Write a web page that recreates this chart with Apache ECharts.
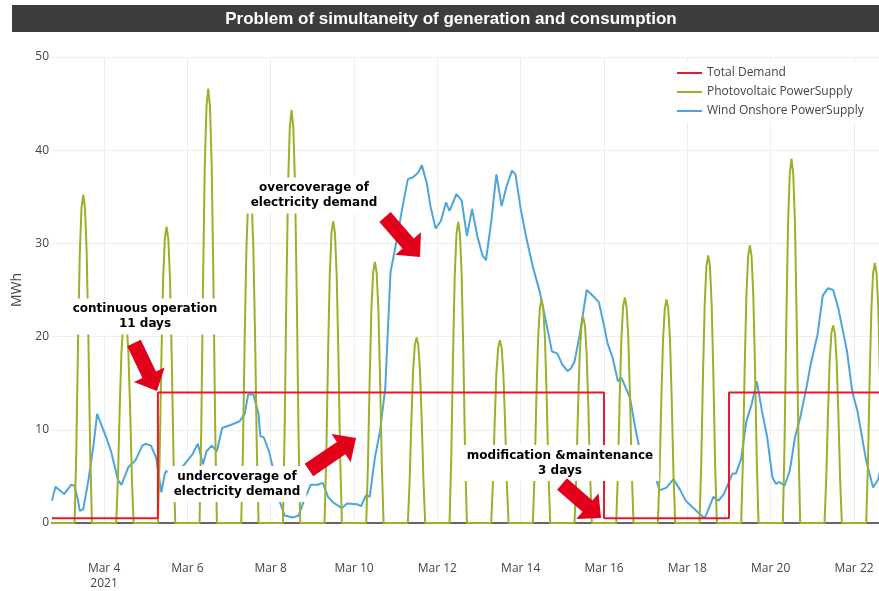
<!DOCTYPE html>
<html>
<head>
<meta charset="utf-8">
<script src="https://cdn.jsdelivr.net/npm/echarts@6/dist/echarts.min.js"></script>
<style>
  html, body { margin: 0; padding: 0; background: #fff; }
  #chart { width: 879px; height: 591px; }
</style>
</head>
<body>
<div id="chart"></div>
<script>
// x tick dates and labels
var tickDates = ['2021-03-04', '2021-03-06', '2021-03-08', '2021-03-10', '2021-03-12',
  '2021-03-14', '2021-03-16', '2021-03-18', '2021-03-20', '2021-03-22'];
var tickLabels = ['Mar 4\n2021', 'Mar 6', 'Mar 8', 'Mar 10', 'Mar 12',
  'Mar 14', 'Mar 16', 'Mar 18', 'Mar 20', 'Mar 22'];
var yTicks = [0, 10, 20, 30, 40, 50];

// total demand (step changes)
var demand = [
  ['2021-03-02 18:00', 0.5],
  ['2021-03-05 07:00', 14],
  ['2021-03-16 00:00', 0.5],
  ['2021-03-19 00:00', 14],
  ['2021-03-22 16:00', 14]
];

// photovoltaic: hourly values 07:00..17:00 for each day
var pvHours = [7, 8, 9, 10, 11, 12, 13, 14, 15, 16, 17];
var pvDays = ['2021-03-03', '2021-03-04', '2021-03-05', '2021-03-06', '2021-03-07',
  '2021-03-08', '2021-03-09', '2021-03-10', '2021-03-11', '2021-03-12',
  '2021-03-13', '2021-03-14', '2021-03-15', '2021-03-16', '2021-03-17',
  '2021-03-18', '2021-03-19', '2021-03-20', '2021-03-21', '2021-03-22'];
var pvValues = [
  [0, 7.7, 19.4, 28.9, 33.8, 35.2, 33.8, 28.9, 19.4, 7.7, 0],
  [0, 4.9, 12.3, 18.3, 21.4, 22.3, 21.4, 18.3, 12.3, 4.9, 0],
  [0, 7.0, 17.5, 26.1, 30.5, 31.8, 30.5, 26.1, 17.5, 7.0, 0],
  [0, 10.3, 25.6, 38.2, 44.7, 46.6, 44.7, 38.2, 25.6, 10.3, 0],
  [0, 7.9, 19.8, 29.5, 34.6, 36.0, 34.6, 29.5, 19.8, 7.9, 0],
  [0, 9.7, 24.4, 36.3, 42.5, 44.3, 42.5, 36.3, 24.4, 9.7, 0],
  [0, 7.1, 17.8, 26.6, 31.1, 32.4, 31.1, 26.6, 17.8, 7.1, 0],
  [0, 6.2, 15.4, 23.0, 26.9, 28.0, 26.9, 23.0, 15.4, 6.2, 0],
  [0, 4.4, 10.9, 16.3, 19.1, 19.9, 19.1, 16.3, 10.9, 4.4, 0],
  [0, 7.1, 17.8, 26.5, 31.0, 32.3, 31.0, 26.5, 17.8, 7.1, 0],
  [0, 4.3, 10.8, 16.1, 18.8, 19.6, 18.8, 16.1, 10.8, 4.3, 0],
  [0, 5.3, 13.2, 19.7, 23.0, 24.0, 23.0, 19.7, 13.2, 5.3, 0],
  [0, 4.9, 12.2, 18.1, 21.2, 22.1, 21.2, 18.1, 12.2, 4.9, 0],
  [0, 5.3, 13.3, 19.8, 23.2, 24.2, 23.2, 19.8, 13.3, 5.3, 0],
  [0, 5.3, 13.2, 19.7, 23.0, 24.0, 23.0, 19.7, 13.2, 5.3, 0],
  [0, 6.3, 15.8, 23.5, 27.6, 28.7, 27.6, 23.5, 15.8, 6.3, 0],
  [0, 6.6, 16.4, 24.4, 28.6, 29.8, 28.6, 24.4, 16.4, 6.6, 0],
  [0, 8.6, 21.5, 32.1, 37.5, 39.1, 37.5, 32.1, 21.5, 8.6, 0],
  [0, 4.7, 11.7, 17.4, 20.4, 21.2, 20.4, 17.4, 11.7, 4.7, 0],
  [0, 6.1, 15.3, 22.9, 26.8, 27.9, 26.8, 22.9, 15.3, 6.1, 0]
];

// wind onshore
var wind = [
  ['2021-03-02 18:00', 2.4], ['2021-03-02 20:00', 3.9], ['2021-03-03 01:00', 3.1],
  ['2021-03-03 05:00', 4.1], ['2021-03-03 07:00', 4.0], ['2021-03-03 09:00', 2.4],
  ['2021-03-03 10:00', 1.3], ['2021-03-03 12:00', 1.5], ['2021-03-03 15:00', 4.6],
  ['2021-03-03 18:00', 8.5], ['2021-03-03 20:00', 11.7], ['2021-03-03 21:00', 11.8],
  ['2021-03-04 01:00', 9.3], ['2021-03-04 04:00', 7.7], ['2021-03-04 08:00', 4.6],
  ['2021-03-04 10:00', 4.1], ['2021-03-04 14:00', 6.0], ['2021-03-04 18:00', 6.7],
  ['2021-03-04 22:00', 8.3], ['2021-03-05 00:00', 8.5], ['2021-03-05 03:00', 8.3],
  ['2021-03-05 06:00', 7.0], ['2021-03-05 09:00', 3.3], ['2021-03-05 11:00', 5.3],
  ['2021-03-05 12:00', 5.6], ['2021-03-05 16:00', 5.0], ['2021-03-05 21:00', 6.0],
  ['2021-03-06 03:00', 7.4], ['2021-03-06 06:00', 8.5], ['2021-03-06 09:00', 6.3],
  ['2021-03-06 11:00', 7.7], ['2021-03-06 14:00', 8.3], ['2021-03-06 17:00', 7.7],
  ['2021-03-06 20:00', 10.2], ['2021-03-07 02:00', 10.6], ['2021-03-07 06:00', 10.9],
  ['2021-03-07 09:00', 11.7], ['2021-03-07 11:00', 13.8], ['2021-03-07 14:00', 13.8],
  ['2021-03-07 17:00', 11.7], ['2021-03-07 18:00', 9.3], ['2021-03-07 20:00', 9.2],
  ['2021-03-07 23:00', 7.7], ['2021-03-08 02:00', 5.3], ['2021-03-08 05:00', 2.4],
  ['2021-03-08 08:00', 0.8], ['2021-03-08 13:00', 0.6], ['2021-03-08 16:00', 0.8],
  ['2021-03-08 20:00', 2.8], ['2021-03-08 23:00', 4.1], ['2021-03-09 03:00', 4.1],
  ['2021-03-09 06:00', 4.3], ['2021-03-09 09:00', 2.8], ['2021-03-09 12:00', 2.2],
  ['2021-03-09 17:00', 1.6], ['2021-03-09 20:00', 2.1], ['2021-03-10 02:00', 2.0],
  ['2021-03-10 04:00', 1.8], ['2021-03-10 07:00', 3.0], ['2021-03-10 09:00', 2.8],
  ['2021-03-10 12:00', 7.0], ['2021-03-10 15:00', 9.9], ['2021-03-10 18:00', 14.5],
  ['2021-03-10 21:00', 26.9], ['2021-03-11 00:00', 29.8], ['2021-03-11 04:00', 34.0],
  ['2021-03-11 07:00', 36.9], ['2021-03-11 10:00', 37.1], ['2021-03-11 13:00', 37.6],
  ['2021-03-11 15:00', 38.4], ['2021-03-11 18:00', 36.4], ['2021-03-11 20:00', 34.0],
  ['2021-03-11 23:00', 31.6], ['2021-03-12 02:00', 32.4], ['2021-03-12 05:00', 34.4],
  ['2021-03-12 07:00', 33.5], ['2021-03-12 11:00', 35.3], ['2021-03-12 14:00', 34.6],
  ['2021-03-12 17:00', 30.8], ['2021-03-12 20:00', 33.7], ['2021-03-12 23:00', 30.8],
  ['2021-03-13 02:00', 28.7], ['2021-03-13 04:00', 28.2], ['2021-03-13 07:00', 32.3],
  ['2021-03-13 10:00', 37.4], ['2021-03-13 13:00', 34.0], ['2021-03-13 16:00', 36.2],
  ['2021-03-13 19:00', 37.8], ['2021-03-13 21:00', 37.4], ['2021-03-14 00:00', 33.7],
  ['2021-03-14 03:00', 30.8], ['2021-03-14 07:00', 27.5], ['2021-03-14 11:00', 24.8],
  ['2021-03-14 15:00', 21.2], ['2021-03-14 18:00', 18.4], ['2021-03-14 21:00', 18.2],
  ['2021-03-15 00:00', 17.0], ['2021-03-15 03:00', 16.3], ['2021-03-15 05:00', 16.6],
  ['2021-03-15 07:00', 17.3], ['2021-03-15 10:00', 20.2], ['2021-03-15 14:00', 25.0],
  ['2021-03-15 18:00', 24.3], ['2021-03-15 21:00', 23.7], ['2021-03-16 00:00', 21.2],
  ['2021-03-16 02:00', 19.3], ['2021-03-16 05:00', 17.7], ['2021-03-16 08:00', 15.2],
  ['2021-03-16 10:00', 15.6], ['2021-03-16 15:00', 13.4], ['2021-03-16 18:00', 10.2],
  ['2021-03-16 21:00', 7.5], ['2021-03-17 01:00', 4.7], ['2021-03-17 06:00', 4.7],
  ['2021-03-17 08:00', 3.5], ['2021-03-17 12:00', 3.8], ['2021-03-17 16:00', 4.7],
  ['2021-03-17 20:00', 3.5], ['2021-03-17 23:00', 2.4], ['2021-03-18 03:00', 1.7],
  ['2021-03-18 07:00', 1.0], ['2021-03-18 10:00', 0.5], ['2021-03-18 12:00', 1.4],
  ['2021-03-18 15:00', 2.8], ['2021-03-18 18:00', 2.4], ['2021-03-18 21:00', 3.1],
  ['2021-03-19 02:00', 5.3], ['2021-03-19 04:00', 5.3], ['2021-03-19 07:00', 6.9],
  ['2021-03-19 10:00', 10.9], ['2021-03-19 13:00', 12.7], ['2021-03-19 16:00', 15.2],
  ['2021-03-19 19:00', 12.0], ['2021-03-19 22:00', 9.2], ['2021-03-20 01:00', 4.9],
  ['2021-03-20 03:00', 4.2], ['2021-03-20 05:00', 4.4], ['2021-03-20 08:00', 4.0],
  ['2021-03-20 11:00', 5.6], ['2021-03-20 14:00', 9.2], ['2021-03-20 17:00', 11.3],
  ['2021-03-20 21:00', 14.9], ['2021-03-20 23:00', 17.0], ['2021-03-21 03:00', 20.2],
  ['2021-03-21 06:00', 24.4], ['2021-03-21 09:00', 25.2], ['2021-03-21 12:00', 25.0],
  ['2021-03-21 15:00', 23.0], ['2021-03-21 20:00', 18.4], ['2021-03-21 23:00', 14.1],
  ['2021-03-22 02:00', 12.0], ['2021-03-22 07:00', 6.7], ['2021-03-22 11:00', 3.8],
  ['2021-03-22 14:00', 4.7], ['2021-03-22 16:00', 6.5]
];

var names = ['Total Demand', 'Photovoltaic PowerSupply', 'Wind Onshore PowerSupply'];
var colors = ['#e8192c', '#9cb02a', '#4ea5dc'];

var notes = [
  { text: 'continuous operation\n11 days', x: 145, y: 316.5 },
  { text: 'overcoverage of\nelectricity demand', x: 314, y: 195.5 },
  { text: 'undercoverage of\nelectricity demand', x: 237, y: 484 },
  { text: 'modification &maintenance\n3 days', x: 560, y: 463 }
];
// arrows: tail -> tip
var arrows = [
  [134, 343, 157, 391],
  [309, 470, 356, 438],
  [385, 217, 420, 257],
  [562, 484, 601, 518]
];

// '2021-03-05 07:00' -> timestamp (UTC, so the page does not depend on the local zone)
function ts(s) {
  var p = s.split(/[- :]/);
  return Date.UTC(+p[0], +p[1] - 1, +p[2], +(p[3] || 0), +(p[4] || 0));
}
function toXY(list) {
  return list.map(function (d) { return [ts(d[0]), d[1]]; });
}

var pvData = [[ts('2021-03-02 18:00'), 0]];
pvDays.forEach(function (d, i) {
  pvHours.forEach(function (h, j) {
    pvData.push([ts(d + ' ' + h + ':00'), pvValues[i][j]]);
  });
});
pvData.push([ts('2021-03-22 18:00'), 0]);

var tickTs = tickDates.map(function (d) { return ts(d); });

function arrowPoints(a) {
  var x0 = a[0], y0 = a[1], x1 = a[2], y1 = a[3];
  var dx = x1 - x0, dy = y1 - y0, len = Math.sqrt(dx * dx + dy * dy);
  var ux = dx / len, uy = dy / len, px = -uy, py = ux;
  var bw = 7.5, hw = 17, hl = 18;
  var bx = x1 - ux * hl, by = y1 - uy * hl;
  return [
    [x0 + px * bw, y0 + py * bw], [bx + px * bw, by + py * bw], [bx + px * hw, by + py * hw],
    [x1, y1],
    [bx - px * hw, by - py * hw], [bx - px * bw, by - py * bw], [x0 - px * bw, y0 - py * bw]
  ];
}

var graphics = [
  { type: 'rect', shape: { x: 12, y: 5, width: 867, height: 27 }, style: { fill: '#3d3d3d' }, z: 10 },
  { type: 'text', x: 451, y: 19, z: 11, style: {
      text: 'Problem of simultaneity of generation and consumption',
      fill: '#fff', font: 'bold 17px "Liberation Sans", Arial, sans-serif',
      align: 'center', verticalAlign: 'middle' } }
];
notes.forEach(function (n) {
  graphics.push({ type: 'text', x: n.x, y: n.y, z: 20, style: {
    text: n.text, fill: '#000', font: 'bold 12px "DejaVu Sans", sans-serif',
    lineHeight: 15, align: 'center', verticalAlign: 'middle',
    backgroundColor: '#fff', padding: [3, 6] } });
});
arrows.forEach(function (a) {
  graphics.push({ type: 'polygon', z: 21, shape: { points: arrowPoints(a) }, style: { fill: '#e2001a' } });
});

var option = {
  animation: false,
  color: colors,
  grid: { left: 52, right: 0, top: 57, bottom: 65 },
  legend: {
    data: names, orient: 'vertical', left: 671, top: 62,
    backgroundColor: '#fff', padding: [4, 6],
    icon: 'rect', itemWidth: 25, itemHeight: 2, itemGap: 5,
    textStyle: { color: '#444', fontSize: 12, fontFamily: '"Open Sans", sans-serif', lineHeight: 14 }
  },
  xAxis: {
    type: 'value',
    min: ts('2021-03-02 18:00'), max: ts('2021-03-22 14:24'),
    axisLine: { lineStyle: { color: '#666', width: 2 } },
    axisTick: { show: false, customValues: tickTs },
    splitLine: { show: true, customValues: tickTs, lineStyle: { color: '#eee', width: 1 } },
    axisLabel: {
      customValues: tickTs, margin: 38, color: '#444', fontSize: 12, lineHeight: 15,
      fontFamily: '"Open Sans", sans-serif',
      formatter: function (v) {
        var i = tickTs.indexOf(v);
        return i >= 0 ? tickLabels[i] : '';
      }
    }
  },
  yAxis: {
    type: 'value', min: yTicks[0], max: yTicks[yTicks.length - 1], interval: 10,
    name: 'MWh', nameLocation: 'middle', nameGap: 28,
    nameTextStyle: { color: '#444', fontSize: 14, fontFamily: '"Open Sans", sans-serif' },
    axisLine: { show: false }, axisTick: { show: false },
    axisLabel: { color: '#444', fontSize: 12, margin: 3, fontFamily: '"Open Sans", sans-serif' },
    splitLine: { lineStyle: { color: '#eee' } }
  },
  graphic: graphics,
  series: [
    { name: names[0], type: 'line', step: 'end', data: toXY(demand), showSymbol: false,
      lineStyle: { width: 2, color: colors[0] }, itemStyle: { color: colors[0] }, z: 4 },
    { name: names[1], type: 'line', data: pvData, showSymbol: false,
      lineStyle: { width: 2, color: colors[1] }, itemStyle: { color: colors[1] }, z: 3 },
    { name: names[2], type: 'line', data: toXY(wind), showSymbol: false,
      lineStyle: { width: 2, color: colors[2] }, itemStyle: { color: colors[2] }, z: 2 }
  ]
};

echarts.init(document.getElementById('chart')).setOption(option);
</script>
</body>
</html>
